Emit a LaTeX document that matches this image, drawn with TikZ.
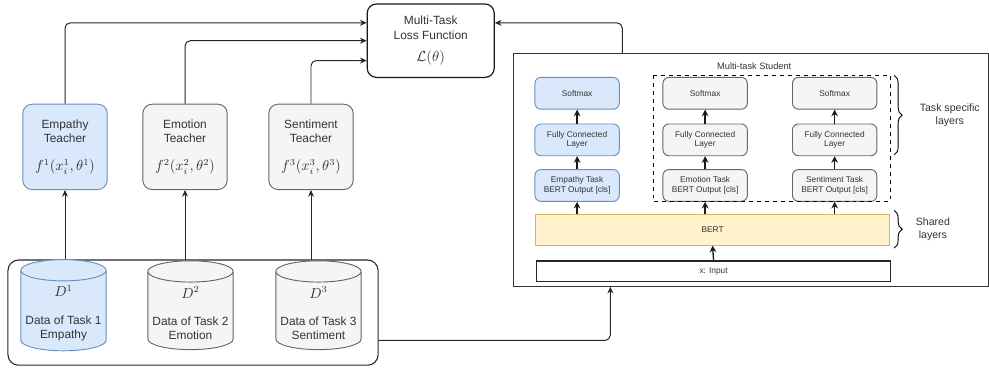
\documentclass[tikz,border=0pt]{standalone}
\usepackage{fontspec}
\setmainfont{Liberation Sans}
\usetikzlibrary{positioning, arrows.meta, shapes.geometric, decorations.pathreplacing}
\definecolor{blueFill}{HTML}{DAE8FC}
\definecolor{blueLine}{HTML}{6C8EBF}
\definecolor{grayFill}{HTML}{F5F5F5}
\definecolor{grayLine}{HTML}{666666}
\definecolor{yellowFill}{HTML}{FFF2CC}
\definecolor{yellowLine}{HTML}{D6B656}
\definecolor{textGray}{HTML}{333333}
\newcommand{\mathbig}{\fontsize{10.5}{12}\selectfont}

\begin{document}
\begin{tikzpicture}[
		x=0.75pt, y=-0.75pt,
		teacher/.style={rectangle, rounded corners=7pt, draw=grayLine, fill=grayFill, line width=0.7pt, minimum width=63.75pt, minimum height=64.5pt, align=center, text=textGray, font=\fontsize{9}{10.5}\selectfont},
		empteacher/.style={teacher, draw=blueLine, fill=blueFill},
		dataset/.style={cylinder, shape border rotate=90, aspect=0.25, draw=grayLine, fill=grayFill, line width=0.7pt, minimum width=64.5pt, minimum height=64pt, align=center, text=textGray, font=\fontsize{9}{10.5}\selectfont},
		empdataset/.style={dataset, draw=blueLine, fill=blueFill},
		group/.style={rectangle, rounded corners=8pt, draw=black!85, line width=0.8pt, minimum width=279.75pt, minimum height=79.5pt},
		lossblock/.style={rectangle, rounded corners=7pt, draw=black!90, line width=0.9pt, fill=white, minimum width=96pt, minimum height=55.5pt, align=center, text=textGray, font=\fontsize{9}{11}\selectfont},
		layer/.style={rectangle, rounded corners=4.5pt, draw=grayLine, fill=grayFill, line width=0.7pt, minimum width=63.75pt, minimum height=24pt, align=center, text=textGray, font=\fontsize{6.3}{7.5}\selectfont},
		emplayer/.style={layer, draw=blueLine, fill=blueFill},
		bertblock/.style={rectangle, draw=yellowLine, fill=yellowFill, line width=0.7pt, minimum width=267pt, minimum height=23.25pt, text=textGray, font=\fontsize{6.3}{7.5}\selectfont},
		inputblock/.style={rectangle, draw=black!85, fill=white, line width=0.8pt, minimum width=267pt, minimum height=15.75pt, text=textGray, font=\fontsize{6.3}{7.5}\selectfont},
		note/.style={align=center, text=textGray, font=\fontsize{8}{9.75}\selectfont},
		brace/.style={decorate, decoration={brace, amplitude=6pt}, line width=0.7pt},
		arrow/.style={-{Stealth[length=5pt, width=4.5pt]}, line width=0.75pt, rounded corners=4pt, draw=black!85},
		sarrow/.style={-{Stealth[length=5pt, width=5pt]}, line width=1pt, draw=black!90}
		]
		
		% --- LOSS FUNCTION ---
		\node[lossblock] (loss) at (434,41) {Multi-Task\\Loss Function\\[6pt]{\mathbig$\mathcal{L}(\theta)$}};
		
		% --- TEACHERS ---
		\node[empteacher] (emp) at (65.5,148) {Empathy\\Teacher\\[11pt]{\mathbig$f^1(x_i^1,\theta^1)$}};
		\node[teacher, right=26.25pt of emp] (emo) {Emotion\\Teacher\\[11pt]{\mathbig$f^2(x_i^2,\theta^2)$}};
		\node[teacher, right=30.75pt of emo] (sen) {Sentiment\\Teacher\\[11pt]{\mathbig$f^3(x_i^3,\theta^3)$}};
		
		% --- DATASETS ---
		\node[group] (data) at (194.5,315) {};
		\node[empdataset] (d1) at (64,315.5) {{\mathbig$D^1$}\\[10pt]Data of Task 1\\Empathy};
		\node[dataset, right=30.75pt of d1] (d2) {{\mathbig$D^2$}\\[10pt]Data of Task 2\\Emotion};
		\node[dataset, right=31.5pt of d2] (d3) {{\mathbig$D^3$}\\[10pt]Data of Task 3\\Sentiment};
		
		% --- STUDENT ---
		\draw[draw=black!80, line width=0.8pt] (517,54) rectangle (996,289);
		\node[text=textGray, font=\fontsize{7}{8}\selectfont] (stitle) at (760,67) {Multi-task Student};
		
		% Empathy column
		\node[emplayer] (empsm) at (581.5,94) {Softmax};
		\node[emplayer, below=10.5pt of empsm] (empfc) {Fully Connected\\Layer};
		\node[emplayer, below=9.75pt of empfc] (empbo) {Empathy Task\\BERT Output [cls]};
		
		% Emotion column
		\node[layer] (emosm) at (710.5,94) {Softmax};
		\node[layer, below=10.5pt of emosm] (emofc) {Fully Connected\\Layer};
		\node[layer, below=9.75pt of emofc] (emobo) {Emotion Task\\BERT Output [cls]};
		
		% Sentiment column
		\node[layer] (sensm) at (841,94) {Softmax};
		\node[layer, below=10.5pt of sensm] (senfc) {Fully Connected\\Layer};
		\node[layer, below=9.75pt of senfc] (senbo) {Sentiment Task\\BERT Output [cls]};
		
		\draw[dashed, line width=0.8pt] (658,76) rectangle (897,203);
		
		% Shared part
		\node[bertblock] (bert) at (718,231.5) {BERT};
		\node[inputblock] (input) at (719,273.5) {x: Input};
		
		% Braces
		\draw[brace] (901,76) -- (901,156);
		\node[note] (tasklbl) at (957,116) {Task specific\\layers};
		\draw[brace] (901,212) -- (901,250);
		\node[note] (sharedlbl) at (940,231) {Shared\\layers};
		
		% --- ARROWS ---
		\draw[arrow] (emp.south |- d1.north) -- (emp.south);
		\draw[arrow] (emo.south |- d2.north) -- (emo.south);
		\draw[arrow] (sen.south |- d3.north) -- (sen.south);
		
		\draw[arrow] (emp.north) |- ([yshift=13.5pt]loss.west);
		\draw[arrow] (emo.north) |- (loss.west);
		\draw[arrow] (sen.north) |- ([yshift=-15pt]loss.west);
		
		\coordinate (sout) at (627,54);
		\coordinate (sin) at (615,289);
		\draw[arrow] (sout) |- ([yshift=13.5pt]loss.east);
		\draw[arrow] ([yshift=-21pt]data.east) -| (sin);
		
		\draw[sarrow] (input.north) -- (bert.south);
		\foreach \col in {emp, emo, sen} {
			\draw[sarrow] (\col bo.south |- bert.north) -- (\col bo.south);
			\draw[sarrow] (\col bo.north) -- (\col fc.south);
			\draw[sarrow] (\col fc.north) -- (\col sm.south);
		}
		
		\useasboundingbox (0,0) rectangle (989,374);
	\end{tikzpicture}
\end{document}
